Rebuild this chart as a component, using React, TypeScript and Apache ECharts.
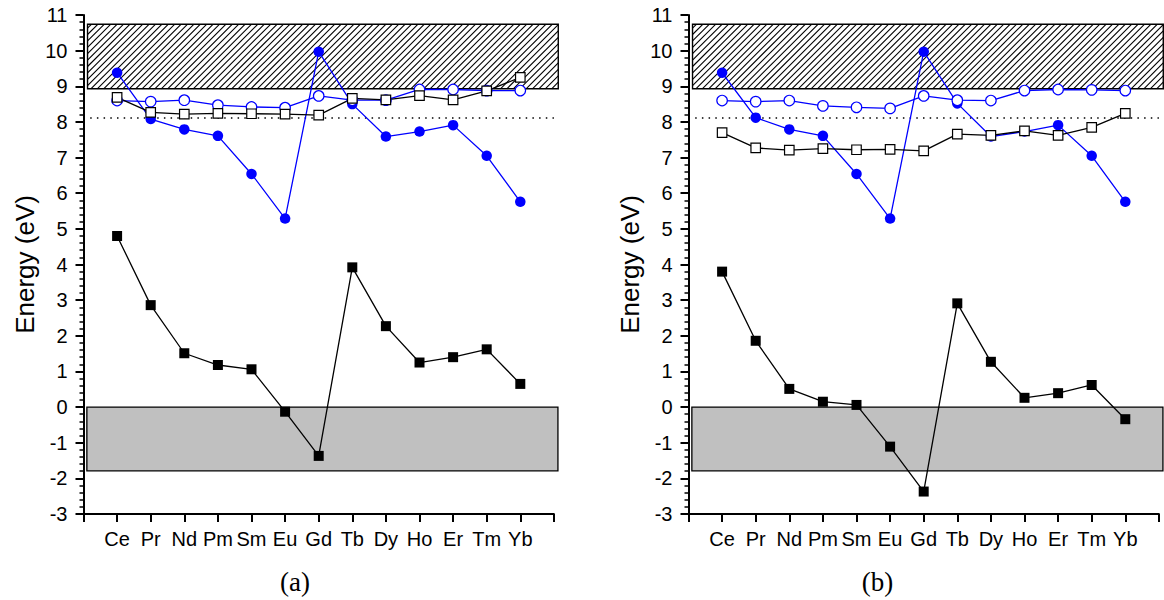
import React, { useEffect, useRef } from 'react';
import * as echarts from 'echarts';

const categories = ['Ce', 'Pr', 'Nd', 'Pm', 'Sm', 'Eu', 'Gd', 'Tb', 'Dy', 'Ho', 'Er', 'Tm', 'Yb'];
const yTicks = { min: -3, max: 11, interval: 1 };

// panel (a)
const aFilledSquare = [4.8, 2.86, 1.51, 1.18, 1.06, -0.13, -1.37, 3.92, 2.27, 1.25, 1.4, 1.62, 0.65];
const aFilledCircle = [9.38, 8.08, 7.79, 7.61, 6.54, 5.29, 9.97, 8.5, 7.59, 7.73, 7.91, 7.05, 5.76];
const aOpenCircle = [8.6, 8.57, 8.61, 8.47, 8.42, 8.4, 8.73, 8.61, 8.61, 8.91, 8.91, 8.88, 8.88];
const aOpenSquare = [8.69, 8.27, 8.22, 8.24, 8.23, 8.22, 8.19, 8.66, 8.62, 8.74, 8.62, 8.87, 9.25];

// panel (b)
const bFilledSquare = [3.8, 1.86, 0.51, 0.15, 0.06, -1.11, -2.37, 2.91, 1.27, 0.26, 0.39, 0.62, -0.34];
const bFilledCircle = [9.38, 8.12, 7.79, 7.61, 6.54, 5.29, 9.97, 8.52, 7.59, 7.73, 7.91, 7.05, 5.76];
const bOpenCircle = [8.6, 8.57, 8.6, 8.45, 8.41, 8.38, 8.73, 8.61, 8.6, 8.88, 8.91, 8.9, 8.88];
const bOpenSquare = [7.7, 7.27, 7.21, 7.25, 7.22, 7.23, 7.19, 7.66, 7.62, 7.75, 7.62, 7.85, 8.24];

// bands: [xFrom, xTo, yFrom, yTo]
const conductionBand = [0.12, 14.13, 8.93, 10.74];
const valenceBand = [0.1, 14.12, -1.79, 0];
const dottedLevel = 8.11;

const panelLabels = ['(a)', '(b)'];

const FONT = '"Liberation Sans", Arial, sans-serif';

const toPoints = (arr: number[]) => arr.map((v, i) => [i + 1, v]);

function bandSeries(idx: number) {
  return {
    type: 'custom',
    xAxisIndex: idx,
    yAxisIndex: idx,
    z: 1,
    silent: true,
    clip: false,
    data: [
      [...valenceBand, 0],
      [...conductionBand, 1],
    ],
    encode: { x: [0, 1], y: [2, 3] },
    renderItem: (params: any, api: any) => {
      const p0 = api.coord([api.value(0), api.value(3)]);
      const p1 = api.coord([api.value(1), api.value(2)]);
      const x = p0[0];
      const y = p0[1];
      const w = p1[0] - p0[0];
      const h = p1[1] - p0[1];
      const kind = api.value(4);
      if (kind === 0) {
        return {
          type: 'rect',
          shape: { x, y, width: w, height: h },
          style: { fill: '#c0c0c0', stroke: '#000', lineWidth: 1.3 },
        };
      }
      const children: any[] = [
        { type: 'rect', shape: { x, y, width: w, height: h }, style: { fill: '#fff', stroke: 'none' } },
      ];
      const step = 6.4;
      for (let c = x + y + step * 0.6; c < x + w + y + h; c += step) {
        const xa = Math.max(x, c - (y + h));
        const xb = Math.min(x + w, c - y);
        if (xb > xa) {
          children.push({
            type: 'line',
            shape: { x1: xa, y1: c - xa, x2: xb, y2: c - xb },
            style: { stroke: '#000', lineWidth: 1.1 },
          });
        }
      }
      children.push({
        type: 'rect',
        shape: { x, y, width: w, height: h },
        style: { fill: 'none', stroke: '#000', lineWidth: 1.4 },
      });
      return { type: 'group', children };
    },
  };
}

function pointSeries(idx: number, data: number[], kind: 'fsq' | 'fci' | 'oci' | 'osq') {
  const blue = '#0000ff';
  const isBlue = kind === 'fci' || kind === 'oci';
  const color = isBlue ? blue : '#000';
  const symbol = kind === 'fsq' || kind === 'osq' ? 'rect' : 'circle';
  const size = kind === 'fsq' ? 10 : kind === 'osq' ? 9.5 : 10.5;
  const filled = kind === 'fsq' || kind === 'fci';
  return {
    type: 'line',
    xAxisIndex: idx,
    yAxisIndex: idx,
    z: 3,
    data: toPoints(data),
    symbol,
    symbolSize: size,
    showAllSymbol: true,
    lineStyle: { color, width: 1.3 },
    itemStyle: filled
      ? { color, borderWidth: 0 }
      : { color: '#fff', borderColor: color, borderWidth: 1.2 },
  };
}

function dottedSeries(idx: number) {
  return {
    type: 'line',
    xAxisIndex: idx,
    yAxisIndex: idx,
    z: 2,
    silent: true,
    symbol: 'none',
    data: [
      [0, dottedLevel],
      [14, dottedLevel],
    ],
    lineStyle: { color: '#000', width: 1.5, type: [1.5, 5.2] },
  };
}

function xAxis(idx: number) {
  return {
    type: 'value',
    gridIndex: idx,
    min: 0,
    max: 14,
    interval: 1,
    axisLine: { onZero: false, lineStyle: { color: '#000', width: 2 } },
    axisTick: { length: 8, lineStyle: { color: '#000', width: 2 } },
    splitLine: { show: false },
    axisLabel: {
      margin: 15,
      color: '#000',
      fontFamily: FONT,
      fontSize: 20,
      formatter: (v: number) => categories[v - 1] || '',
    },
  };
}

function yAxis(idx: number) {
  return {
    type: 'value',
    gridIndex: idx,
    min: yTicks.min,
    max: yTicks.max,
    interval: yTicks.interval,
    name: 'Energy (eV)',
    nameLocation: 'middle',
    nameGap: 46,
    nameTextStyle: { color: '#000', fontFamily: FONT, fontSize: 26 },
    axisLine: { onZero: false, lineStyle: { color: '#000', width: 2 } },
    axisTick: { length: 8, lineStyle: { color: '#000', width: 2 } },
    minorTick: { show: true, splitNumber: 5, length: 4, lineStyle: { color: '#000', width: 1.5 } },
    splitLine: { show: false },
    minorSplitLine: { show: false },
    axisLabel: { margin: 16, color: '#000', fontFamily: FONT, fontSize: 20 },
  };
}

export default function App() {
  const ref = useRef<HTMLDivElement>(null);
  useEffect(() => {
    if (!ref.current) return;
    const chart = echarts.init(ref.current, null, { renderer: 'svg' });
    const panels = [
      [aFilledSquare, aFilledCircle, aOpenCircle, aOpenSquare],
      [bFilledSquare, bFilledCircle, bOpenCircle, bOpenSquare],
    ];
    const series: any[] = [];
    panels.forEach((p, i) => {
      series.push(bandSeries(i));
      series.push(dottedSeries(i));
      series.push(pointSeries(i, p[0], 'fsq'));
      series.push(pointSeries(i, p[1], 'fci'));
      series.push(pointSeries(i, p[2], 'oci'));
      series.push(pointSeries(i, p[3], 'osq'));
    });
    const labelFont = '27px "Liberation Serif", "Times New Roman", serif';
    chart.setOption({
      animation: false,
      backgroundColor: '#fff',
      grid: [
        { left: 83.5, top: 15, width: 470.4, height: 499 },
        { left: 688.5, top: 15, width: 470.4, height: 499 },
      ],
      xAxis: [xAxis(0), xAxis(1)],
      yAxis: [yAxis(0), yAxis(1)],
      series,
      graphic: [
        {
          type: 'text',
          x: 295,
          y: 582,
          style: { text: panelLabels[0], font: labelFont, fill: '#000', align: 'center', verticalAlign: 'middle' },
        },
        {
          type: 'text',
          x: 877.5,
          y: 582,
          style: { text: panelLabels[1], font: labelFont, fill: '#000', align: 'center', verticalAlign: 'middle' },
        },
      ],
    });
    return () => chart.dispose();
  }, []);
  return <div ref={ref} style={{ position: 'absolute', left: 0, top: 0, width: 1164, height: 600 }} />;
}
